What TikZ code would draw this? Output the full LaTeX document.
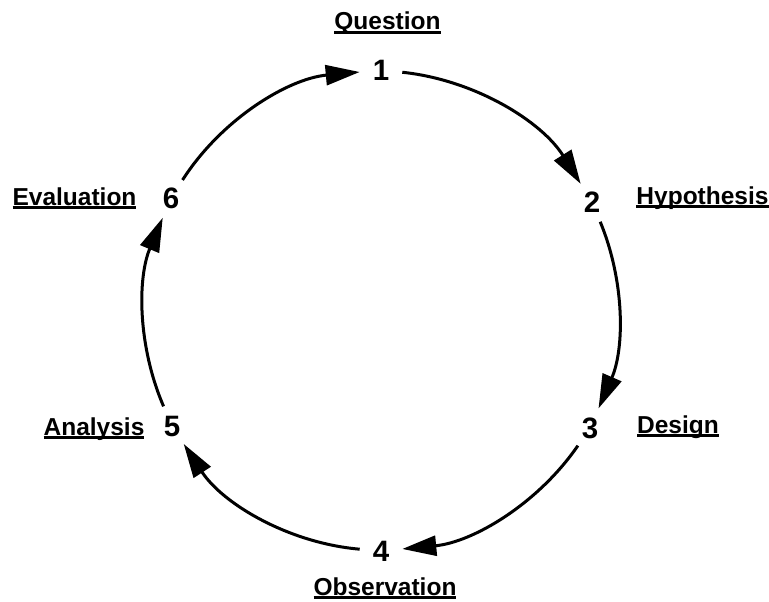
\documentclass[tikz,border=0pt]{standalone}
\usepackage{fontspec}
\setmainfont{Liberation Sans}
\usetikzlibrary{arrows.meta,positioning}
\newcommand{\ulword}[1]{\setbox0\hbox{#1}\rlap{\rule[-0.18em]{\wd0}{0.12em}}\box0}
\tikzset{
    stage/.style={circle,minimum size=21pt,inner sep=0pt,font=\fontsize{14.75}{17}\selectfont\bfseries},
    phase/.style={inner sep=0pt,anchor=base,font=\fontsize{12.25}{14}\selectfont\bfseries},
    cycle/.style={-{Triangle[length=17pt,width=10pt]},line width=1.5pt,looseness=0.89}
}

\begin{document}
\begin{tikzpicture}[x=0.5pt,y=0.5pt]
    \useasboundingbox (0,0) rectangle (769,601);

    % numbered stages round the circle
    \node[stage] (s1) at (381,531) {1};
    \node[stage] (s2) at (592,399) {2};
    \node[stage] (s3) at (590,173) {3};
    \node[stage] (s4) at (381,50)  {4};
    \node[stage] (s5) at (172,175) {5};
    \node[stage] (s6) at (171,403) {6};

    % stage names
    \node[phase] (question)    at (387.5,571.5) {\ulword{Question}};
    \node[phase] (hypothesis)  at (702.5,397)   {\ulword{Hypothesis}};
    \node[phase] (design)      at (678,168)     {\ulword{Design}};
    \node[phase] (observation) at (385,6)       {\ulword{Observation}};
    \node[phase] (analysis)    at (94,166)      {\ulword{Analysis}};
    \node[phase] (evaluation)  at (74.5,396)    {\ulword{Evaluation}};

    \foreach \from/\to/\bend in {1/2/26,2/3/23,3/4/25,4/5/26,5/6/23,6/1/26}
        \draw[cycle] (s\from) to[bend left=\bend] (s\to);

\end{tikzpicture}
\end{document}
